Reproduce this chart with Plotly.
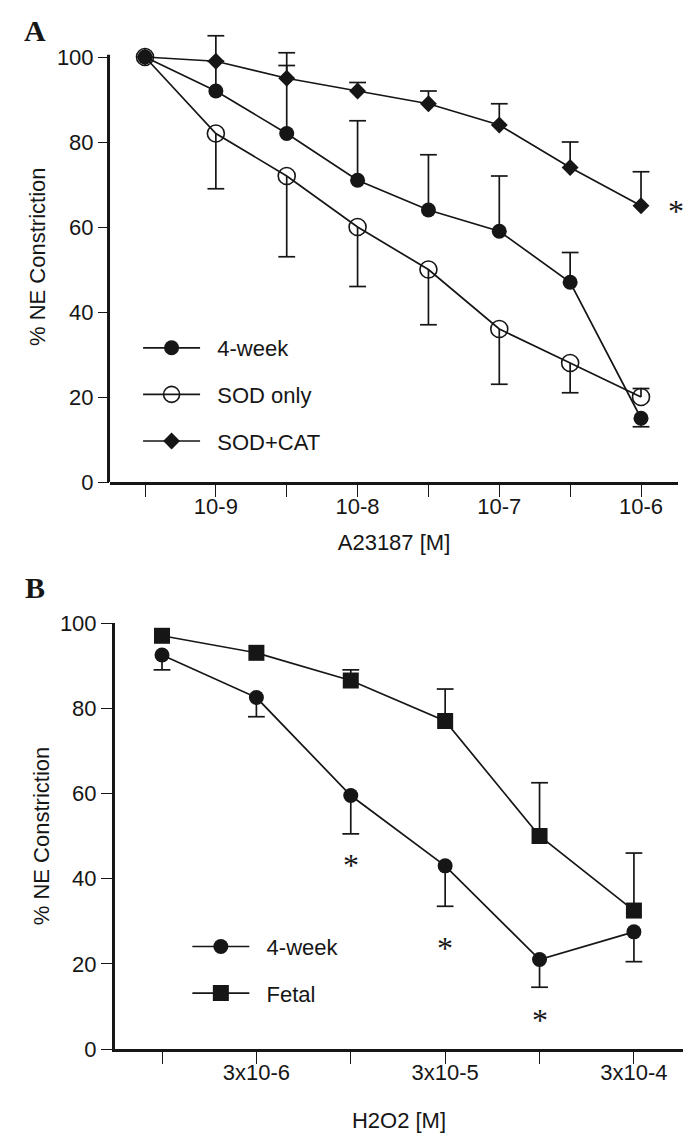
import plotly.graph_objects as go

# ---------------- Panel A data ----------------
x_A = [-9.5, -9.0, -8.5, -8.0, -7.5, -7.0, -6.5, -6.0]
tick_text_A = ["", "10-9", "", "10-8", "", "10-7", "", "10-6"]

week4_A = [100, 92, 82, 71, 64, 59, 47, 15]
week4_A_up = [0, 7, 16, 14, 13, 13, 7, 0]
week4_A_down = [0, 0, 0, 0, 0, 0, 0, 2]

sod_A = [100, 82, 72, 60, 50, 36, 28, 20]
sod_A_up = [0, 0, 0, 0, 0, 0, 0, 2]
sod_A_down = [0, 13, 19, 14, 13, 13, 7, 0]

cat_A = [100, 99, 95, 92, 89, 84, 74, 65]
cat_A_up = [0, 6, 6, 2, 3, 5, 6, 8]
cat_A_down = [0, 0, 0, 0, 0, 0, 0, 0]

sig_A_x = [-5.75]
sig_A_y = [64.5]

# ---------------- Panel B data ----------------
x_B = [-6.5, -6.0, -5.5, -5.0, -4.5, -4.0]
tick_text_B = ["", "3x10-6", "", "3x10-5", "", "3x10-4"]

week4_B = [92.5, 82.5, 59.5, 43, 21, 27.5]
week4_B_up = [0, 0, 0, 0, 0, 0]
week4_B_down = [3.5, 4.5, 9, 9.5, 6.5, 7]

fetal_B = [97, 93, 86.5, 77, 50, 32.5]
fetal_B_up = [0, 0, 2.5, 7.5, 12.5, 13.5]
fetal_B_down = [0, 0, 0, 0, 0, 0]

sig_B_x = [-5.5, -5.0, -4.5]
sig_B_y = [44, 24.5, 7.5]

y_ticks = [0, 20, 40, 60, 80, 100]

INK = "#161616"
FONT = "Liberation Sans, Arial, Helvetica, sans-serif"
SERIF = "Liberation Serif, Times New Roman, serif"
FS = 22
PAD = "\u00a0\u00a0"

fig = go.Figure()


def add_series(x, y, up, down, name, symbol, size, xa, ya, legend, open_marker=False):
    fig.add_trace(go.Scatter(
        x=x, y=y, mode="lines+markers", name=PAD + name,
        xaxis=xa, yaxis=ya, legend=legend, legendgroup=name,
        line=dict(color=INK, width=1.7),
        marker=dict(symbol=symbol, size=size, color=INK,
                    line=dict(color=INK, width=1.6 if open_marker else 0)),
        error_y=dict(type="data", symmetric=False, array=up, arrayminus=down,
                     width=0, thickness=1.7, color=INK),
        cliponaxis=False,
    ))
    cx, cy = [], []
    for xi, yi, u, d in zip(x, y, up, down):
        if u > 0:
            cx.append(xi)
            cy.append(yi + u)
        if d > 0:
            cx.append(xi)
            cy.append(yi - d)
    fig.add_trace(go.Scatter(
        x=cx, y=cy, mode="markers", xaxis=xa, yaxis=ya,
        marker=dict(symbol="line-ew-open", size=12, color=INK, line=dict(color=INK, width=1.7)),
        showlegend=False, hoverinfo="skip", cliponaxis=False,
    ))


add_series(x_A, week4_A, week4_A_up, week4_A_down, "4-week", "circle", 15, "x", "y", "legend")
add_series(x_A, sod_A, sod_A_up, sod_A_down, "SOD only", "circle-open", 17, "x", "y", "legend", open_marker=True)
add_series(x_A, cat_A, cat_A_up, cat_A_down, "SOD+CAT", "diamond", 13, "x", "y", "legend")

add_series(x_B, week4_B, week4_B_up, week4_B_down, "4-week", "circle", 15, "x2", "y2", "legend2")
add_series(x_B, fetal_B, fetal_B_up, fetal_B_down, "Fetal", "square", 16, "x2", "y2", "legend2")

# significance asterisks
for sx, sy in zip(sig_A_x, sig_A_y):
    fig.add_annotation(x=sx, y=sy, xref="x", yref="y", text="*", showarrow=False,
                       font=dict(family=SERIF, size=32, color=INK), yshift=-3)
for sx, sy in zip(sig_B_x, sig_B_y):
    fig.add_annotation(x=sx, y=sy, xref="x2", yref="y2", text="*", showarrow=False,
                       font=dict(family=SERIF, size=32, color=INK), yshift=-3)

# panel letters
fig.add_annotation(x=-0.1309, y=0.97965, xref="paper", yref="paper", text="<b>A</b>", showarrow=False,
                   xanchor="center", yanchor="middle",
                   font=dict(family=SERIF, size=30, color=INK))
fig.add_annotation(x=-0.1309, y=0.48673, xref="paper", yref="paper", text="<b>B</b>", showarrow=False,
                   xanchor="center", yanchor="middle",
                   font=dict(family=SERIF, size=30, color=INK))

# y-axis line for panel A (range extends above 100 only to keep caps visible)
fig.add_shape(type="line", xref="x domain", yref="y", x0=-0.0026, x1=-0.0026, y0=-0.4, y1=100.5,
              line=dict(color=INK, width=3))

axis_common = dict(showgrid=False, zeroline=False, ticks="outside", tickwidth=1, tickcolor=INK,
                   tickfont=dict(family=FONT, size=FS, color=INK), linecolor=INK, linewidth=3)

fig.update_layout(
    template="none",
    width=690, height=1130,
    margin=dict(l=102, r=15, t=0, b=0),
    paper_bgcolor="white", plot_bgcolor="white",
    font=dict(family=FONT, size=FS, color=INK),
    xaxis=dict(domain=[0, 0.99127], range=[-9.747, -5.739], anchor="y", showline=True,
               tickvals=x_A, ticktext=tick_text_A, ticklen=12, ticklabelstandoff=-9,
               title=dict(text="A23187 [M]", font=dict(family=FONT, size=FS, color=INK), standoff=17),
               **axis_common),
    yaxis=dict(domain=[0.58053, 0.97920], range=[0, 106], anchor="x", showline=False,
               tickvals=y_ticks, ticklen=11,
               title=dict(text="% NE Constriction", font=dict(family=FONT, size=FS, color=INK), standoff=5),
               **axis_common),
    xaxis2=dict(domain=[0.00873, 1], range=[-6.749, -3.740], anchor="y2", showline=True,
                tickvals=x_B, ticktext=tick_text_B, ticklen=12, ticklabelstandoff=-10,
                title=dict(text="H2O2 [M]", font=dict(family=FONT, size=FS, color=INK), standoff=29),
                **axis_common),
    yaxis2=dict(domain=[0.07876, 0.45575], range=[0, 100], anchor="x2", showline=True,
                tickvals=y_ticks, ticklen=11,
                title=dict(text="% NE Constriction", font=dict(family=FONT, size=FS, color=INK), standoff=5),
                **axis_common),
    legend=dict(x=0.049, y=0.7177, xanchor="left", yanchor="top", bgcolor="rgba(0,0,0,0)",
                font=dict(family=FONT, size=FS, color=INK), traceorder="grouped",
                tracegroupgap=15, itemwidth=57),
    legend2=dict(x=0.135, y=0.18788, xanchor="left", yanchor="top", bgcolor="rgba(0,0,0,0)",
                 font=dict(family=FONT, size=FS, color=INK), traceorder="grouped",
                 tracegroupgap=15, itemwidth=57),
    showlegend=True,
)

fig.write_html("out.html")
